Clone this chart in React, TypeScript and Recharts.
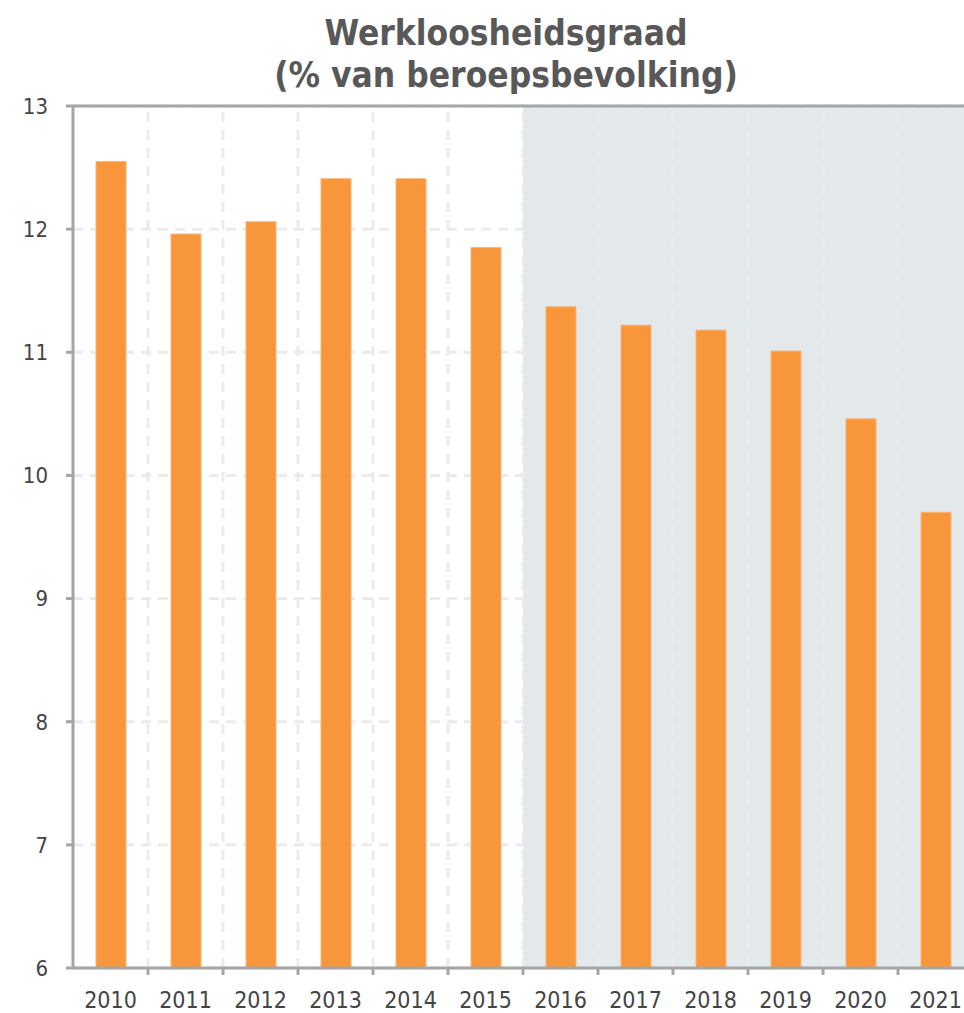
import { BarChart, Bar, XAxis, YAxis, CartesianGrid, ReferenceArea, ReferenceLine } from "recharts";

const YEARS = ["2010", "2011", "2012", "2013", "2014", "2015", "2016", "2017", "2018", "2019", "2020", "2021"];
const RATE = [12.55, 11.96, 12.06, 12.41, 12.41, 11.85, 11.37, 11.22, 11.18, 11.01, 10.46, 9.7];
const Y_TICKS = [6, 7, 8, 9, 10, 11, 12, 13];
const SHADE_FROM = "2016";

const data = YEARS.map((year, i) => ({ year, rate: RATE[i] }));

const W = 985;
const H = 1013;
const MARGIN = { top: 106, right: 12, left: 6, bottom: 0 };
const YAXIS_W = 67;
const PLOT_W = W - MARGIN.left - MARGIN.right - YAXIS_W;
const BAND = PLOT_W / YEARS.length;
const TICK_SIZE = 7;
const TICK_MARGIN = 16;

const FONT = '"DejaVu Sans Condensed", "DejaVu Sans", sans-serif';
const AXIS = "#a6a6a6";
const GRID = "#ebebeb";
const TEXT = "#444";

function YearTick({ x, y, payload, index }: any) {
  const edge = x + BAND / 2;
  return (
    <g>
      {index < YEARS.length - 1 && (
        <line x1={edge} x2={edge} y1={y - TICK_MARGIN - TICK_SIZE} y2={y - TICK_MARGIN} stroke={AXIS} strokeWidth={3} />
      )}
      <text x={x} y={y} dy="0.72em" textAnchor="middle" fill={TEXT} fontSize={23} fontFamily={FONT}>
        {payload.value}
      </text>
    </g>
  );
}

export default function App() {
  return (
    <div style={{ position: "fixed", left: 0, top: 0, width: 964, height: 1013, overflow: "hidden", background: "#fff" }}>
      <div
        style={{
          position: "absolute",
          left: 0,
          width: 1012,
          top: 12,
          textAlign: "center",
          fontFamily: FONT,
          fontWeight: "bold",
          fontSize: 35,
          lineHeight: "42px",
          color: "#585858",
        }}
      >
        <div>Werkloosheidsgraad</div>
        <div>(% van beroepsbevolking)</div>
      </div>
      <BarChart width={W} height={H} data={data} margin={MARGIN}>
        <ReferenceArea x1={SHADE_FROM} x2={YEARS[YEARS.length - 1]} fill="#e3e8eb" fillOpacity={1} stroke="none" />
        <CartesianGrid vertical={false} stroke={GRID} strokeWidth={3} strokeDasharray="10 7" />
        {YEARS.slice(1).map((year) => (
          <ReferenceLine key={year} x={year} position="start" stroke={GRID} strokeWidth={3} strokeDasharray="10 8" />
        ))}
        <ReferenceLine y={13} stroke={AXIS} strokeWidth={3} />
        <XAxis
          dataKey="year"
          height={45}
          axisLine={{ stroke: AXIS, strokeWidth: 3 }}
          tickLine={false}
          tickSize={TICK_SIZE}
          tickMargin={TICK_MARGIN}
          tick={<YearTick />}
          interval={0}
        />
        <YAxis
          domain={[6, 13]}
          ticks={Y_TICKS}
          allowDataOverflow
          width={YAXIS_W}
          axisLine={{ stroke: AXIS, strokeWidth: 3 }}
          tickLine={{ stroke: AXIS, strokeWidth: 3 }}
          tickSize={TICK_SIZE}
          tickMargin={18}
          tick={{ fill: TEXT, fontSize: 22, fontFamily: FONT }}
        />
        <Bar dataKey="rate" fill="#f7963b" stroke="#fab478" strokeWidth={1} barSize={30} isAnimationActive={false} />
      </BarChart>
    </div>
  );
}
